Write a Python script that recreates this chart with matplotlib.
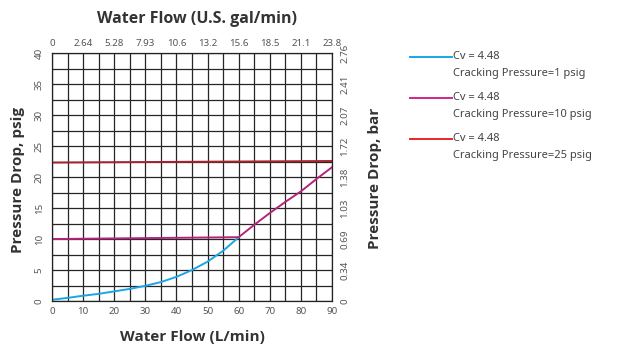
import matplotlib
matplotlib.use("Agg")
import matplotlib.pyplot as plt
from matplotlib.lines import Line2D

plt.rcParams["font.family"] = ["Noto Sans", "DejaVu Sans"]

# data (x in L/min, y in psig)
flow_cp1 = [0, 5, 10, 15, 20, 25, 30, 35, 40, 45, 50, 55, 60]
dp_cp1 = [0.2, 0.5, 0.85, 1.15, 1.55, 1.95, 2.45, 3.05, 3.9, 5.0, 6.35, 8.1, 10.3]

flow_cp10 = [0, 60, 65, 70, 75, 80, 85, 90]
dp_cp10 = [10.0, 10.3, 12.3, 14.2, 16.0, 17.7, 19.7, 21.6]

flow_cp25 = [0, 90]
dp_cp25 = [22.35, 22.6]

gal_labels = ["0", "2.64", "5.28", "7.93", "10.6", "13.2", "15.6", "18.5", "21.1", "23.8"]
bar_labels = ["0", "0.34", "0.69", "1.03", "1.38", "1.72", "2.07", "2.41", "2.76"]

legend_labels = ["Cv = 4.48\nCracking Pressure=1 psig",
                 "Cv = 4.48\nCracking Pressure=10 psig",
                 "Cv = 4.48\nCracking Pressure=25 psig"]
legend_colors = ["#1aa6e4", "#d0268a", "#e8262e"]
plot_colors = ["#1aa6e4", "#b3247a", "#a82230"]

fig = plt.figure(figsize=(6.21, 3.47), dpi=100)
ax = fig.add_axes([0.0837, 0.1326, 0.451, 0.714])

ax.set_xlim(0, 90)
ax.set_ylim(0, 40)
ax.set_xticks(range(0, 91, 10))
ax.set_xticks(range(0, 91, 5), minor=True)
ax.set_yticks(range(0, 41, 5))
ax.set_yticks([v * 2.5 for v in range(17)], minor=True)
ax.grid(True, which="both", color="#262626", lw=0.9)
ax.set_axisbelow(True)
for s in ax.spines.values():
    s.set_color("#222222")
    s.set_linewidth(0.9)

tick_kw = dict(labelsize=7, labelcolor="#555555", length=0)
ax.tick_params(axis="both", which="both", pad=4, **tick_kw)
ax.tick_params(axis="y", labelrotation=90, pad=6)
for lab in ax.get_yticklabels():
    lab.set_va("center")

ax.plot(flow_cp1, dp_cp1, color=plot_colors[0], lw=1.4)
ax.plot(flow_cp10, dp_cp10, color=plot_colors[1], lw=1.4)
ax.plot(flow_cp25, dp_cp25, color=plot_colors[2], lw=1.4)

# top axis: gal/min
axt = ax.twiny()
axt.set_xlim(0, 90)
axt.set_xticks(range(0, 91, 10))
axt.set_xticklabels(gal_labels)
axt.tick_params(axis="x", pad=4, **tick_kw)
for s in axt.spines.values():
    s.set_visible(False)

# right axis: bar
axr = ax.twinx()
axr.set_ylim(0, 40)
axr.set_yticks(range(0, 41, 5))
axr.set_yticklabels(bar_labels)
axr.tick_params(axis="y", labelrotation=90, pad=6, **tick_kw)
for lab in axr.get_yticklabels():
    lab.set_va("center")
for s in axr.spines.values():
    s.set_visible(False)

lab_kw = dict(fontweight="bold", color="#333333",
              family=["Open Sans", "DejaVu Sans"])
fig.text(0.318, 0.945, "Water Flow (U.S. gal/min)", ha="center", va="center",
         fontsize=11.5, **lab_kw)
fig.text(0.310, 0.030, "Water Flow (L/min)", ha="center", va="center",
         fontsize=11, **lab_kw)
fig.text(0.029, 0.482, "Pressure Drop, psig", rotation=90, ha="center", va="center",
         fontsize=11, **lab_kw)
fig.text(0.604, 0.487, "Pressure Drop, bar", rotation=90, ha="center", va="center",
         fontsize=11, **lab_kw)

# legend drawn to the right of the chart
for i, (txt, col) in enumerate(zip(legend_labels, legend_colors)):
    y = 0.836 - i * 0.118
    fig.add_artist(Line2D([0.660, 0.728], [y, y], color=col, lw=1.4,
                          transform=fig.transFigure))
    first, second = txt.split("\n")
    fig.text(0.729, y, first, ha="left", va="center", fontsize=8, color="#444444")
    fig.text(0.729, y - 0.047, second, ha="left", va="center", fontsize=8, color="#444444")

fig.savefig("out.png", dpi=100)
